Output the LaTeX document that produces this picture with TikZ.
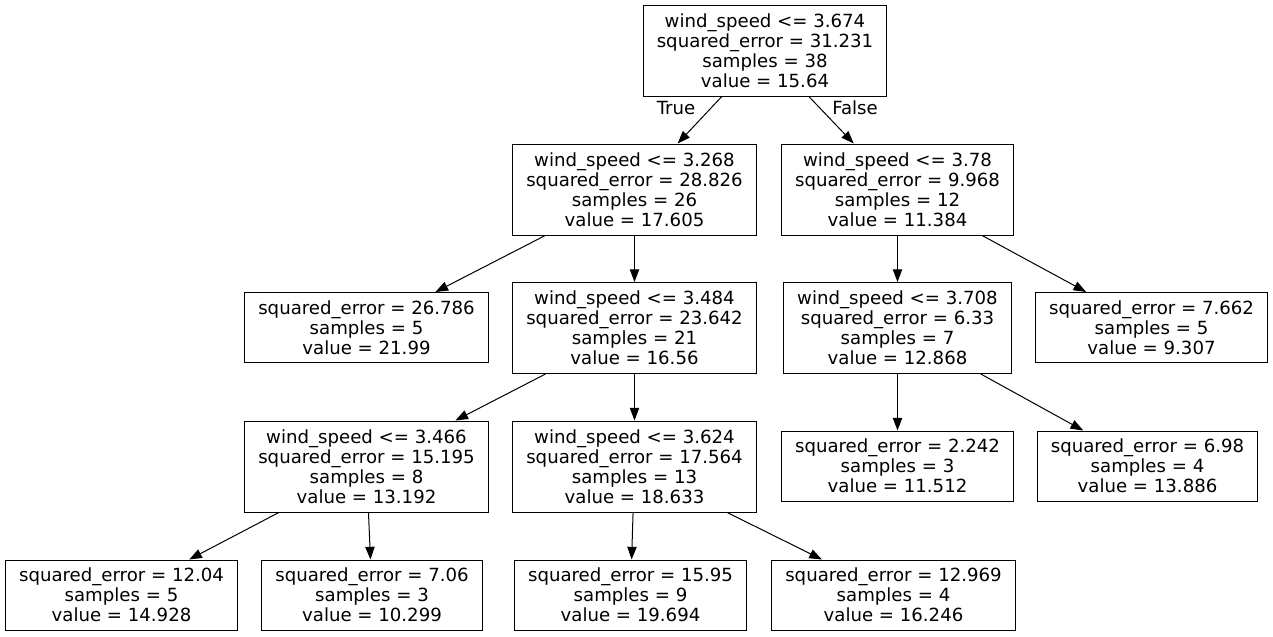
\documentclass[tikz,border=0pt]{standalone}
\usepackage{fontspec}
\setmainfont{DejaVu Sans}
\usetikzlibrary{arrows.meta}
\tikzset{
    % internal node: test, error, sample count and mean value
    split/.style={draw, line width=0.75pt, align=center, inner xsep=10.2pt,
        inner ysep=0pt, minimum height=68.25pt,
        font=\fontsize{13.6}{15}\selectfont},
    % leaf node: no test line, so a lower box
    leaf/.style={split, minimum height=52.5pt},
    % directed edges (graphviz style filled tip)
    link/.style={-{Triangle[length=9.5pt, width=7pt]}, line width=0.75pt},
    % True / False labels under the root
    branch/.style={font=\fontsize{13.6}{15}\selectfont, inner sep=0pt},
}

\begin{document}
\begin{tikzpicture}[x=0.75pt, y=-0.75pt]
    \useasboundingbox (0,0) rectangle (1273,636);

    % ---- root ----
    \node[split] (t) at (765, 50.5)
        {wind\_speed <= 3.674\\squared\_error = 31.231\\samples = 38\\value = 15.64};

    % ---- depth 1 ----
    \node[split] (tL) at (634.5, 189.5)
        {wind\_speed <= 3.268\\squared\_error = 28.826\\samples = 26\\value = 17.605};
    \node[split] (tR) at (897.5, 189.5)
        {wind\_speed <= 3.78\\squared\_error = 9.968\\samples = 12\\value = 11.384};

    % ---- depth 2 ----
    \node[leaf] (tLL) at (366.5, 327.5)
        {squared\_error = 26.786\\samples = 5\\value = 21.99};
    \node[split] (tLR) at (634.5, 328)
        {wind\_speed <= 3.484\\squared\_error = 23.642\\samples = 21\\value = 16.56};
    \node[split] (tRL) at (897.5, 328)
        {wind\_speed <= 3.708\\squared\_error = 6.33\\samples = 7\\value = 12.868};
    \node[leaf] (tRR) at (1151.5, 327.5)
        {squared\_error = 7.662\\samples = 5\\value = 9.307};

    % ---- depth 3 ----
    \node[split] (tLRL) at (366.5, 466.5)
        {wind\_speed <= 3.466\\squared\_error = 15.195\\samples = 8\\value = 13.192};
    \node[split] (tLRR) at (634.5, 466.5)
        {wind\_speed <= 3.624\\squared\_error = 17.564\\samples = 13\\value = 18.633};
    \node[leaf] (tRLL) at (897.5, 466)
        {squared\_error = 2.242\\samples = 3\\value = 11.512};
    \node[leaf] (tRLR) at (1147.5, 466)
        {squared\_error = 6.98\\samples = 4\\value = 13.886};

    % ---- depth 4 ----
    \node[leaf] (tLRLL) at (121.5, 595)
        {squared\_error = 12.04\\samples = 5\\value = 14.928};
    \node[leaf] (tLRLR) at (372, 595)
        {squared\_error = 7.06\\samples = 3\\value = 10.299};
    \node[leaf] (tLRRL) at (630.5, 595)
        {squared\_error = 15.95\\samples = 9\\value = 19.694};
    \node[leaf] (tLRRR) at (893.5, 595)
        {squared\_error = 12.969\\samples = 4\\value = 16.246};

    % edges
    \draw[link] (t) -- (tL);
    \draw[link] (t) -- (tR);
    \node[branch] (lTrue)  at (676, 108) {True};
    \node[branch] (lFalse) at (855, 108) {False};

    \draw[link] (tL) -- (tLL);
    \draw[link] (tL) -- (tLR);
    \draw[link] (tR) -- (tRL);
    \draw[link] (tR) -- (tRR);

    \draw[link] (tLR) -- (tLRL);
    \draw[link] (tLR) -- (tLRR);
    \draw[link] (tRL) -- (tRLL);
    \draw[link] (tRL) -- (tRLR);

    \draw[link] (tLRL) -- (tLRLL);
    \draw[link] (tLRL) -- (tLRLR);
    \draw[link] (tLRR) -- (tLRRL);
    \draw[link] (tLRR) -- (tLRRR);

\end{tikzpicture}
\end{document}
